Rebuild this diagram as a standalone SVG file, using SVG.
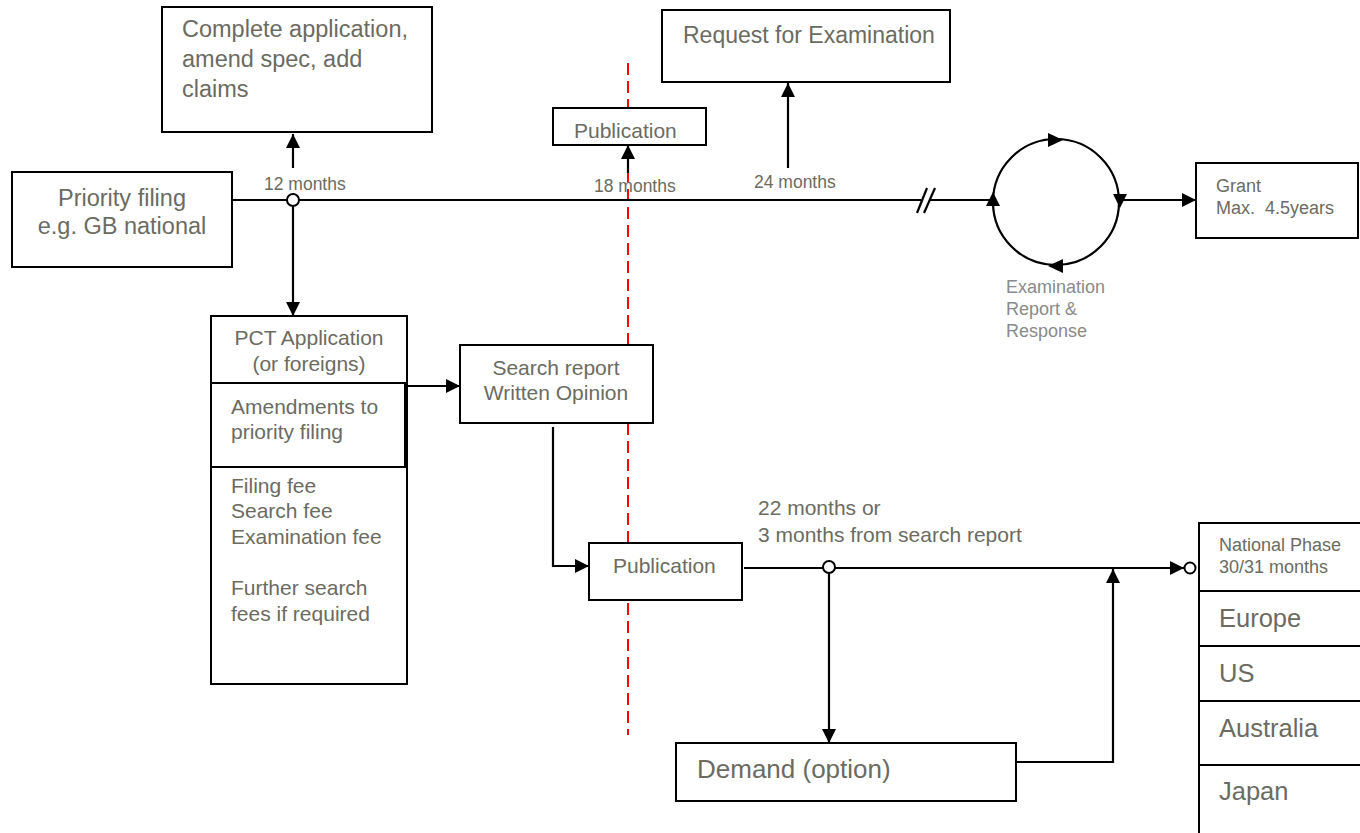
<svg xmlns="http://www.w3.org/2000/svg" width="1360" height="833" viewBox="0 0 1360 833">
<style>
.box{fill:#fff;stroke:#000;stroke-width:2}
.ln{fill:none;stroke:#000;stroke-width:2.2}
.t{font-family:"Liberation Sans",Arial,sans-serif;fill:#6b6b62}
.lt{font-family:"Liberation Sans",Arial,sans-serif;fill:#8a8a8a}
.dot{fill:#fff;stroke:#000;stroke-width:2}
</style>
<defs>
<marker id="ah" markerUnits="userSpaceOnUse" markerWidth="16" markerHeight="16" refX="14" refY="7" orient="auto">
<path d="M0,0 L14,7 L0,14 z" fill="#000"/>
</marker>
</defs>
<rect x="0" y="0" width="1360" height="833" fill="#fff"/>

<line x1="628" y1="63" x2="628" y2="735" stroke="#ff0000" stroke-width="2" stroke-dasharray="12 6"/>

<g id="connectors">
<line class="ln" x1="232" y1="200" x2="921" y2="200"/>
<line class="ln" x1="930" y1="200" x2="993" y2="200"/>
<line class="ln" x1="917" y1="213" x2="927" y2="188"/>
<line class="ln" x1="924" y1="213" x2="935" y2="188"/>
<line class="ln" x1="293" y1="168" x2="293" y2="134" marker-end="url(#ah)"/>
<line class="ln" x1="293" y1="206" x2="293" y2="316" marker-end="url(#ah)"/>
<line class="ln" x1="628" y1="173" x2="628" y2="145" marker-end="url(#ah)"/>
<line class="ln" x1="788" y1="168" x2="788" y2="83" marker-end="url(#ah)"/>
<circle class="ln" cx="1056" cy="202" r="63"/>
<polygon points="1048,133 1063,140 1048,147" fill="#000"/>
<polygon points="1113,194 1127,194 1120,208" fill="#000"/>
<polygon points="1063,259 1048,266 1063,273" fill="#000"/>
<polygon points="986,206 1000,206 993,192" fill="#000"/>
<line class="ln" x1="1120" y1="200" x2="1196" y2="200" marker-end="url(#ah)"/>
<line class="ln" x1="407" y1="386" x2="460" y2="386" marker-end="url(#ah)"/>
<polyline class="ln" points="553,427 553,566 589,566" marker-end="url(#ah)"/>
<line class="ln" x1="744" y1="568" x2="1184" y2="568" marker-end="url(#ah)"/>
<line class="ln" x1="829" y1="573" x2="829" y2="743" marker-end="url(#ah)"/>
<polyline class="ln" points="1016,762 1113,762 1113,569" marker-end="url(#ah)"/>
<circle class="dot" cx="293" cy="200" r="6"/>
<circle class="dot" cx="829" cy="567" r="6"/>
<circle class="dot" cx="1190" cy="568" r="5.5"/>
<text class="t" x="264" y="190" font-size="17.5">12 months</text>
<text class="t" x="594" y="192" font-size="17.5">18 months</text>
<text class="t" x="754" y="188" font-size="17.5">24 months</text>
<text class="t" x="758" y="515" font-size="21">22 months or</text>
<text class="t" x="758" y="542" font-size="21">3 months from search report</text>
<text class="lt" x="1006" y="293" font-size="18">Examination</text>
<text class="lt" x="1006" y="315" font-size="18">Report &amp;</text>
<text class="lt" x="1006" y="337" font-size="18">Response</text>
</g>

<g id="complete">
<rect class="box" x="162" y="7" width="270" height="125"/>
<text class="t" x="182" y="37" font-size="23.5">Complete application,</text>
<text class="t" x="182" y="67" font-size="23.5">amend spec, add</text>
<text class="t" x="182" y="97" font-size="23.5">claims</text>
</g>

<g id="priority">
<rect class="box" x="12" y="172" width="220" height="95"/>
<text class="t" x="122" y="206" font-size="23.5" text-anchor="middle">Priority filing</text>
<text class="t" x="122" y="234" font-size="23.5" text-anchor="middle">e.g. GB national</text>
</g>

<g id="request">
<rect class="box" x="662" y="10" width="288" height="72"/>
<text class="t" x="683" y="43" font-size="23">Request for Examination</text>
</g>

<g id="publication1">
<rect class="box" x="553" y="108" width="153" height="37"/>
<text class="t" x="574" y="138" font-size="21">Publication</text>
</g>

<g id="grant">
<rect class="box" x="1196" y="163" width="162" height="75"/>
<text class="t" x="1216" y="192" font-size="18">Grant</text>
<text class="t" x="1216" y="214" font-size="18" xml:space="preserve">Max.  4.5years</text>
</g>

<g id="pct">
<rect class="box" x="211" y="316" width="196" height="368"/>
<rect class="box" x="211" y="383" width="194" height="84"/>
<text class="t" x="309" y="345" font-size="21" text-anchor="middle">PCT Application</text>
<text class="t" x="309" y="371" font-size="21" text-anchor="middle">(or foreigns)</text>
<text class="t" x="231" y="414" font-size="21">Amendments to</text>
<text class="t" x="231" y="439" font-size="21">priority filing</text>
<text class="t" x="231" y="493" font-size="21">Filing fee</text>
<text class="t" x="231" y="518" font-size="21">Search fee</text>
<text class="t" x="231" y="544" font-size="21">Examination fee</text>
<text class="t" x="231" y="595" font-size="21">Further search</text>
<text class="t" x="231" y="621" font-size="21">fees if required</text>
</g>

<g id="search">
<rect class="box" x="460" y="345" width="193" height="78"/>
<text class="t" x="556" y="375" font-size="21" text-anchor="middle">Search report</text>
<text class="t" x="556" y="400" font-size="21" text-anchor="middle">Written Opinion</text>
</g>

<g id="publication2">
<rect class="box" x="589" y="543" width="153" height="57"/>
<text class="t" x="613" y="573" font-size="21">Publication</text>
</g>

<g id="demand">
<rect class="box" x="676" y="743" width="340" height="58"/>
<text class="t" x="697" y="778" font-size="26">Demand (option)</text>
</g>

<g id="national">
<rect class="box" x="1199" y="523" width="170" height="320"/>
<line class="ln" x1="1199" y1="591" x2="1360" y2="591"/>
<line class="ln" x1="1199" y1="646" x2="1360" y2="646"/>
<line class="ln" x1="1199" y1="701" x2="1360" y2="701"/>
<line class="ln" x1="1199" y1="765" x2="1360" y2="765"/>
<text class="t" x="1219" y="551" font-size="18">National Phase</text>
<text class="t" x="1219" y="573" font-size="18">30/31 months</text>
<text class="t" x="1219" y="627" font-size="25.5">Europe</text>
<text class="t" x="1219" y="682" font-size="25.5">US</text>
<text class="t" x="1219" y="737" font-size="25.5">Australia</text>
<text class="t" x="1219" y="800" font-size="25.5">Japan</text>
</g>
</svg>
